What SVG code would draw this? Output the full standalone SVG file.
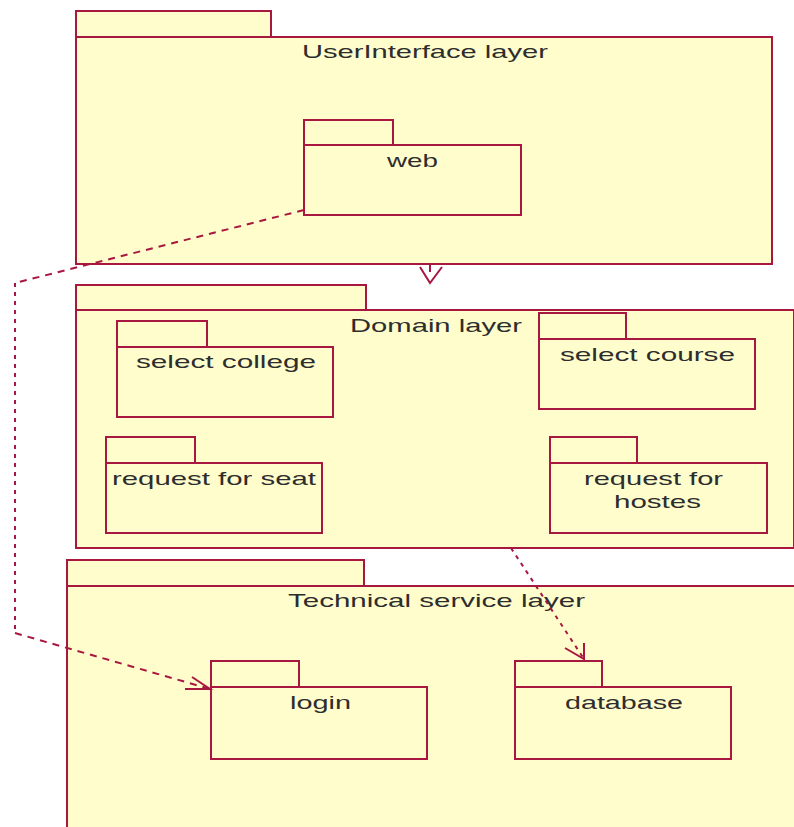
<svg xmlns="http://www.w3.org/2000/svg" width="794" height="827" viewBox="0 0 794 827">
<style>
.pk{fill:#FFFDCC;stroke:#A8173F;stroke-width:2}
.t{font-family:"Liberation Sans",Arial,sans-serif;font-size:19px;fill:#2d2d2d;text-anchor:start}
.c{fill:none;stroke:#A8173F;stroke-width:2}
</style>
<rect width="794" height="827" fill="#ffffff"/>
<g id="ui-layer">
<rect class="pk" x="76" y="11" width="195" height="26"/>
<rect class="pk" x="76" y="37" width="696" height="227"/>
<text class="t" x="302" y="58" textLength="246" lengthAdjust="spacingAndGlyphs">UserInterface layer</text>
</g>
<g id="web">
<rect class="pk" x="304" y="120" width="89" height="25"/>
<rect class="pk" x="304" y="145" width="217" height="70"/>
<text class="t" x="387" y="167" textLength="51" lengthAdjust="spacingAndGlyphs">web</text>
</g>
<g id="domain-layer">
<rect class="pk" x="76" y="285" width="290" height="25"/>
<rect class="pk" x="76" y="310" width="718" height="238"/>
<text class="t" x="350" y="332" textLength="172" lengthAdjust="spacingAndGlyphs">Domain layer</text>
</g>
<g id="select-college">
<rect class="pk" x="117" y="321" width="90" height="26"/>
<rect class="pk" x="117" y="347" width="216" height="70"/>
<text class="t" x="136" y="368" textLength="180" lengthAdjust="spacingAndGlyphs">select college</text>
</g>
<g id="select-course">
<rect class="pk" x="539" y="313" width="87" height="26"/>
<rect class="pk" x="539" y="339" width="216" height="70"/>
<text class="t" x="560" y="361" textLength="175" lengthAdjust="spacingAndGlyphs">select course</text>
</g>
<g id="request-for-seat">
<rect class="pk" x="106" y="437" width="89" height="26"/>
<rect class="pk" x="106" y="463" width="216" height="70"/>
<text class="t" x="112" y="485" textLength="204" lengthAdjust="spacingAndGlyphs">request for seat</text>
</g>
<g id="request-for-hostes">
<rect class="pk" x="550" y="437" width="87" height="26"/>
<rect class="pk" x="550" y="463" width="217" height="70"/>
<text class="t" x="584" y="485" textLength="139" lengthAdjust="spacingAndGlyphs">request for</text>
<text class="t" x="614" y="508" textLength="87" lengthAdjust="spacingAndGlyphs">hostes</text>
</g>
<g id="technical-service-layer">
<rect class="pk" x="67" y="560" width="297" height="26"/>
<rect class="pk" x="67" y="586" width="740" height="250"/>
<text class="t" x="288" y="607" textLength="297" lengthAdjust="spacingAndGlyphs">Technical service layer</text>
</g>
<g id="login">
<rect class="pk" x="211" y="661" width="88" height="26"/>
<rect class="pk" x="211" y="687" width="216" height="72"/>
<text class="t" x="290" y="709" textLength="61" lengthAdjust="spacingAndGlyphs">login</text>
</g>
<g id="database">
<rect class="pk" x="515" y="661" width="87" height="26"/>
<rect class="pk" x="515" y="687" width="216" height="72"/>
<text class="t" x="565" y="709" textLength="118" lengthAdjust="spacingAndGlyphs">database</text>
</g>
<g id="connectors">
<path class="c" d="M304,210 L15,283" stroke-dasharray="7 6"/>
<path class="c" d="M15,283 L15,633" stroke-dasharray="4 5"/>
<path class="c" d="M15,633 L210,689" stroke-dasharray="7 6"/>
<path class="c" d="M192,677 L210,689 L185,689"/>
<path class="c" d="M420,267 L430,283 L442,267 M430,265 L430,272"/>
<path class="c" d="M511,548 L584,659" stroke-dasharray="4 5"/>
<path class="c" d="M565,648 L584,659 L584,643"/>
</g>
</svg>
